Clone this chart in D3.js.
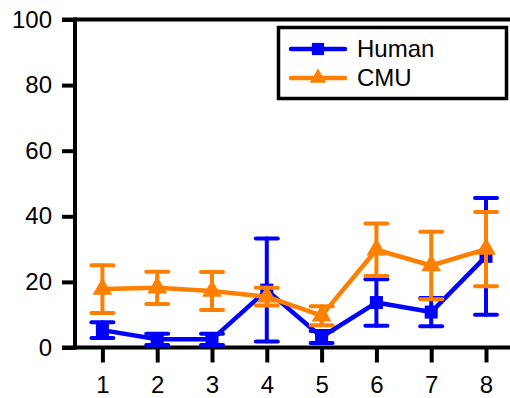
<!DOCTYPE html>
<html>
<head>
<meta charset="utf-8">
<script src="https://cdn.jsdelivr.net/npm/d3@7"></script>
<style>
  html, body { margin: 0; padding: 0; background: #fff; }
  svg { display: block; }
  text { font-family: "Liberation Sans", Arial, sans-serif; fill: #000; }
</style>
</head>
<body>
<svg id="chart" width="510" height="398"></svg>
<script>
// Session index on the x axis
const sessions = [1, 2, 3, 4, 5, 6, 7, 8];

// Human: mean and standard deviation per session
const humanMean = [5.3, 2.5, 2.5, 17.5, 3.2, 13.7, 10.8, 27.8];
const humanSd   = [2.4, 1.7, 1.7, 15.7, 1.8, 7.1, 4.3, 17.8];

// CMU: mean and standard deviation per session
const cmuMean = [17.8, 18.2, 17.2, 15.5, 9.7, 29.8, 25.0, 30.0];
const cmuSd   = [7.3, 4.9, 5.8, 2.7, 2.9, 8.0, 10.3, 11.3];

const yTicks = [0, 20, 40, 60, 80, 100];
const seriesNames = ["Human", "CMU"];

const BLUE = "#0000ff";
const ORANGE = "#ff8000";
const FONT = "'Liberation Sans', Arial, sans-serif";
const FONT_SIZE = 24;

const svg = d3.select("#chart");

const x = d3.scaleLinear().domain([0.5, 8.5]).range([75, 513.4]);
const y = d3.scaleLinear().domain([0, 100]).range([347.5, 19.5]);

// Top frame line
svg.append("line")
  .attr("x1", 62).attr("x2", 510)
  .attr("y1", y(100)).attr("y2", y(100))
  .attr("stroke", "#000").attr("stroke-width", 4);

// Y axis
const yAxis = svg.append("g")
  .attr("transform", `translate(${x(0.5)},0)`)
  .call(d3.axisLeft(y).tickValues(yTicks).tickSize(13).tickPadding(10));
yAxis.select(".domain").remove();
yAxis.selectAll(".tick line").attr("stroke", "#000").attr("stroke-width", 4);
yAxis.selectAll(".tick text")
  .attr("font-size", FONT_SIZE).style("font-family", FONT).attr("fill", "#000");
svg.append("line")
  .attr("x1", x(0.5)).attr("x2", x(0.5))
  .attr("y1", y(100) - 2).attr("y2", y(0) + 2)
  .attr("stroke", "#000").attr("stroke-width", 4);

// X axis
const xAxis = svg.append("g")
  .attr("transform", `translate(0,${y(0)})`)
  .call(d3.axisBottom(x).tickValues(sessions).tickFormat(d3.format("d")).tickSize(15).tickPadding(13));
xAxis.select(".domain").remove();
xAxis.selectAll(".tick line").attr("stroke", "#000").attr("stroke-width", 4);
xAxis.selectAll(".tick text")
  .attr("font-size", FONT_SIZE).style("font-family", FONT).attr("fill", "#000");
svg.append("line")
  .attr("x1", 62).attr("x2", 510)
  .attr("y1", y(0)).attr("y2", y(0))
  .attr("stroke", "#000").attr("stroke-width", 4);

const square = d3.symbol().type(d3.symbolSquare).size(170);
const triangle = d3.symbol().type(d3.symbolTriangle).size(170);

function drawSeries(mean, sd, color, symbol) {
  const g = svg.append("g");
  const data = sessions.map((s, i) => ({ s, m: mean[i], sd: sd[i] }));
  const capHalf = 11;

  // error bars
  const eb = g.append("g")
    .attr("stroke", color).attr("stroke-width", 4).attr("stroke-linecap", "round");
  data.forEach(d => {
    const lo = y(d.m - d.sd), hi = y(d.m + d.sd), cx = x(d.s);
    eb.append("line").attr("x1", cx).attr("x2", cx).attr("y1", lo).attr("y2", hi);
    eb.append("line").attr("x1", cx - capHalf).attr("x2", cx + capHalf).attr("y1", lo).attr("y2", lo);
    eb.append("line").attr("x1", cx - capHalf).attr("x2", cx + capHalf).attr("y1", hi).attr("y2", hi);
  });

  // connecting line
  g.append("path")
    .datum(data)
    .attr("fill", "none").attr("stroke", color).attr("stroke-width", 4.5)
    .attr("stroke-linejoin", "round")
    .attr("d", d3.line().x(d => x(d.s)).y(d => y(d.m)));

  // markers
  g.selectAll(".mk").data(data).join("path")
    .attr("class", "mk")
    .attr("transform", d => `translate(${x(d.s)},${y(d.m)})`)
    .attr("d", symbol)
    .attr("fill", color);
}

drawSeries(humanMean, humanSd, BLUE, square);
drawSeries(cmuMean, cmuSd, ORANGE, triangle);

// Legend
const legend = svg.append("g");
legend.append("rect")
  .attr("x", 278.5).attr("y", 27.5).attr("width", 228).attr("height", 71)
  .attr("fill", "#fff").attr("stroke", "#000").attr("stroke-width", 3.5);

const legendRows = [
  { name: seriesNames[0], color: BLUE, symbol: d3.symbol().type(d3.symbolSquare).size(150), y: 49 },
  { name: seriesNames[1], color: ORANGE, symbol: d3.symbol().type(d3.symbolTriangle).size(120), y: 78 }
];
legendRows.forEach(r => {
  legend.append("line")
    .attr("x1", 291).attr("x2", 345).attr("y1", r.y).attr("y2", r.y)
    .attr("stroke", r.color).attr("stroke-width", 4.5).attr("stroke-linecap", "round");
  legend.append("path")
    .attr("transform", `translate(318,${r.y})`)
    .attr("d", r.symbol).attr("fill", r.color);
  legend.append("text")
    .attr("x", 357).attr("y", r.y).attr("dy", "0.35em")
    .attr("font-size", FONT_SIZE).style("font-family", FONT)
    .text(r.name);
});
</script>
</body>
</html>
